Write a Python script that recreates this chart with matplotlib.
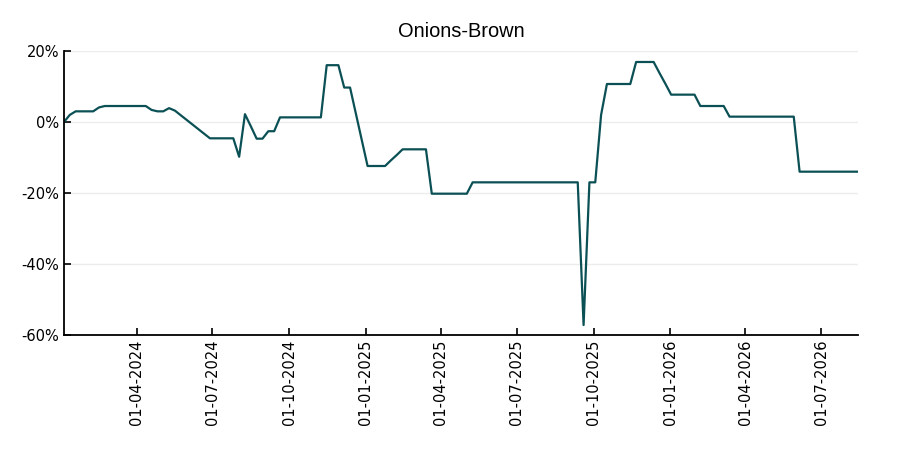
import matplotlib
matplotlib.use("Agg")
import matplotlib.pyplot as plt
import matplotlib.dates as mdates
from matplotlib.ticker import FuncFormatter, MultipleLocator
import pandas as pd

# weekly % change, first week starts 05-01-2024
start_date = "2024-01-05"
pct_change = [
    0, 2.0, 3, 3, 3, 3, 4.1, 4.5, 4.5, 4.5,
    4.5, 4.5, 4.5, 4.5, 4.5, 3.4, 3, 3, 3.9, 3.2,
    1.9, 0.6, -0.7, -2.0, -3.3, -4.6, -4.6, -4.6, -4.6, -4.6,
    -9.8, 2.2, -1.2, -4.7, -4.7, -2.6, -2.6, 1.3, 1.3, 1.3,
    1.3, 1.3, 1.3, 1.3, 1.3, 16, 16, 16, 9.7, 9.7,
    2.3, -5.0, -12.4, -12.4, -12.4, -12.4, -10.8, -9.3, -7.7, -7.7,
    -7.7, -7.7, -7.7, -20.2, -20.2, -20.2, -20.2, -20.2, -20.2, -20.2,
    -17, -17, -17, -17, -17, -17, -17, -17, -17, -17,
    -17, -17, -17, -17, -17, -17, -17, -17, -17, -57.2,
    -17, -17, 2, 10.7, 10.7, 10.7, 10.7, 10.7, 16.9, 16.9,
    16.9, 16.9, 13.8, 10.8, 7.7, 7.7, 7.7, 7.7, 7.7, 4.5,
    4.5, 4.5, 4.5, 4.5, 1.5, 1.5, 1.5, 1.5, 1.5, 1.5,
    1.5, 1.5, 1.5, 1.5, 1.5, 1.5, -14, -14, -14, -14,
    -14, -14, -14, -14, -14, -14, -14,
]
dates = pd.date_range(start_date, periods=len(pct_change), freq="7D")

title = "Onions-Brown"
line_color = "#0b5055"
y_ticks = [-60, -40, -20, 0, 20]

fig = plt.figure(figsize=(9, 4.5), dpi=100)
ax = fig.add_axes([0.0711, 0.2556, 0.8822, 0.6311])

ax.plot(dates, pct_change, color=line_color, linewidth=1.6)

ax.set_xlim(dates[0], dates[-1])
ax.set_ylim(-60, 20)
ax.set_yticks(y_ticks)
ax.yaxis.set_major_formatter(FuncFormatter(lambda v, p: f"{v:.0f}%"))
ax.xaxis.set_major_locator(mdates.MonthLocator(bymonth=[1, 4, 7, 10]))
ax.xaxis.set_major_formatter(mdates.DateFormatter("%d-%m-%Y"))

ax.grid(axis="y", color="#ececec", linewidth=1.0)
ax.set_axisbelow(True)
for s in ["top", "right"]:
    ax.spines[s].set_visible(False)
for s in ["left", "bottom"]:
    ax.spines[s].set_linewidth(1.3)
    ax.spines[s].set_color("black")

ax.tick_params(direction="in", length=5, width=1.2, labelsize=10.5)
for lbl in ax.get_xticklabels():
    lbl.set_rotation(90)
for lbl in ax.get_yticklabels() + ax.get_xticklabels():
    lbl.set_fontfamily("DejaVu Sans")

ax.set_title(title, fontsize=14.4, fontfamily="Liberation Sans", pad=10)

fig.savefig("out.png", dpi=100)
